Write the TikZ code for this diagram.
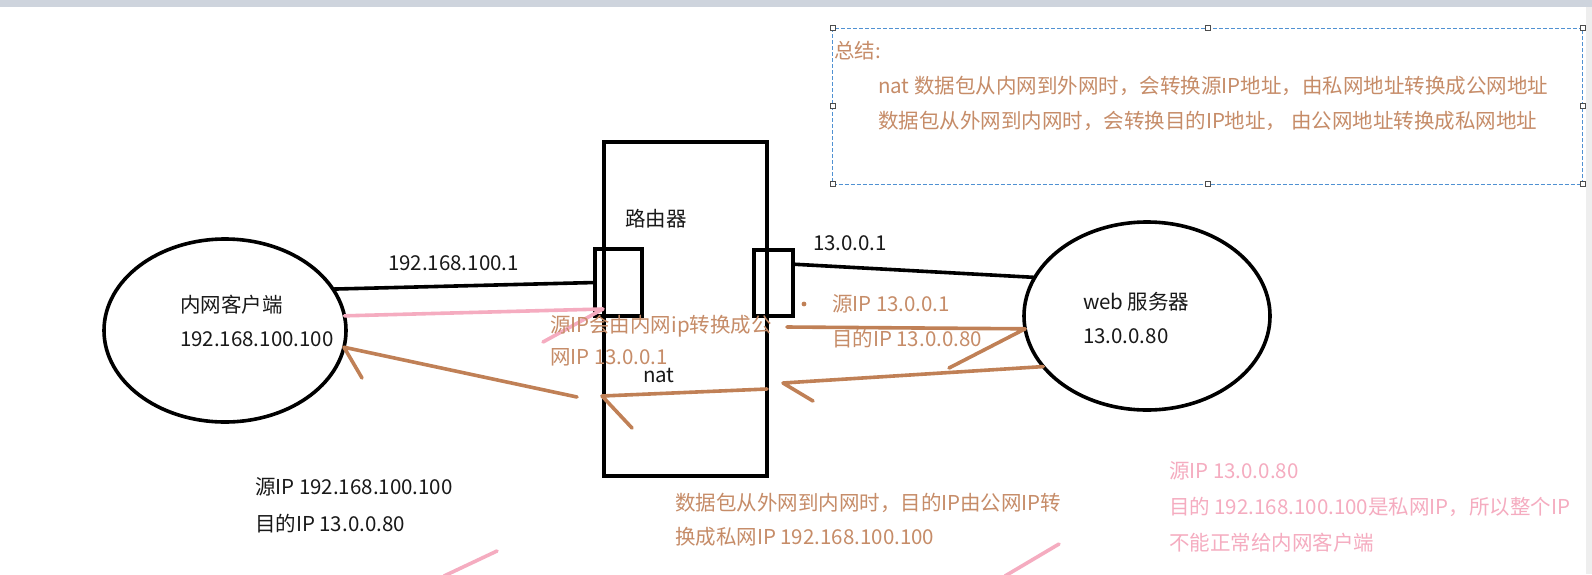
\documentclass[tikz,border=0pt]{standalone}
\usepackage{fontspec}
\setmainfont{Noto Sans CJK SC}
\usepackage{xcolor}
\usetikzlibrary{shapes.geometric}
\definecolor{natbrown}{RGB}{192,128,86}
\definecolor{nattext}{RGB}{198,140,104}
\definecolor{natpink}{RGB}{245,172,192}
\definecolor{selblue}{RGB}{80,145,210}
\definecolor{topbar}{RGB}{206,212,221}
\definecolor{sidebar}{RGB}{238,238,238}

\begin{document}
\begin{tikzpicture}[
  x=1pt, y=-1pt,
  every node/.style={inner sep=0pt, outer sep=0pt},
  txt/.style={anchor=base west, font=\fontsize{20.5}{35}\selectfont, text={black!90}},
  note/.style={txt, text=nattext},
  warn/.style={txt, text=natpink},
  host/.style={draw, ellipse, line width=3.6pt},
  box/.style={draw, rectangle, line width=3.6pt},
  wire/.style={line width=3.6pt, line cap=round},
  flow/.style={line width=3.6pt, natbrown, line cap=round, line join=round},
  pinkflow/.style={flow, natpink},
  handle/.style={draw=black!70, fill=white, line width=0.6pt, rectangle, minimum size=5pt}
]
\fill[white] (0,0) rectangle (1592,574);
\useasboundingbox (0,0) rectangle (1592,574);
\fill[topbar] (0,0) rectangle (1592,7);
\fill[sidebar] (1586,7) rectangle (1592,574);

\node[draw=selblue, dash pattern=on 4pt off 2pt, line width=1pt, minimum width=750, minimum height=156] (summary) at (1207.5,106) {};
\foreach \a [count=\i] in {north west,north,north east,east,south east,south,south west,west}
  \node[handle] (h\i) at (summary.\a) {};
\node[note] (sum0) at (834,58.5) {总结:};
\node[note] (sum1) at (878,93.5) {nat 数据包从内网到外网时，会转换源IP地址，由私网地址转换成公网地址};
\node[note] (sum2) at (878,128.5) {数据包从外网到内网时，会转换目的IP地址， 由公网地址转换成私网地址};

\node[box, minimum width=163, minimum height=334] (router) at (685.5,309) {};
\node[box, minimum width=47, minimum height=67] (lport) at (618.5,282.5) {};
\node[box, minimum width=39, minimum height=66] (rport) at (773.5,283) {};
\node[host, minimum width=242, minimum height=183] (client) at (225,330.5) {};
\node[host, minimum width=246, minimum height=188] (server) at (1147,316) {};

\draw[wire] (client.21) -- (lport.west);
\draw[wire] (rport.44) -- (server.161);

\coordinate (ptip) at (603,309);
\coordinate (pbarb) at (543,342);
\draw[pinkflow] (client.7) -- (ptip) -- (pbarb);

\coordinate (back1) at (577,397);
\coordinate (barb1) at (362,378);
\draw[flow] (back1) -- (client.-8) -- (barb1);

\coordinate (nats) at (767,389);
\coordinate (natt) at (602,396);
\coordinate (barb2) at (632,428);
\draw[flow] (nats) -- (natt) -- (barb2);

\coordinate (out3) at (787,327);
\coordinate (barb3) at (949,368);
\draw[flow] (out3) -- (server.186) -- (barb3);

\coordinate (in4) at (783,383);
\coordinate (barb4) at (813,401);
\draw[flow] (server.206) -- (in4) -- (barb4);

\fill[natbrown] (804,304) circle (2.4);

\node[txt] (rlabel) at (625,226.5) {路由器};
\node[txt] (lip) at (388,270.5) {192.168.100.1};
\node[txt] (rip) at (813,250.5) {13.0.0.1};
\node[txt] (cname) at (180,312.5) {内网客户端};
\node[txt] (cip) at (180,346.5) {192.168.100.100};
\node[txt] (sname) at (1083,309.5) {web 服务器};
\node[txt] (sip) at (1083,343.5) {13.0.0.80};
\node[txt] (nat) at (643,382.5) {nat};

\node[note] (snat1) at (550,332) {源IP会由内网ip转换成公};
\node[note] (snat2) at (550,364.5) {网IP 13.0.0.1};
\node[note] (out1) at (832,311.5) {源IP 13.0.0.1};
\node[note] (out2) at (832,346.5) {目的IP 13.0.0.80};
\node[txt] (req1) at (255,494.5) {源IP 192.168.100.100};
\node[txt] (req2) at (255,531.5) {目的IP 13.0.0.80};
\node[note] (dnat1) at (675,510.5) {数据包从外网到内网时，目的IP由公网IP转};
\node[note] (dnat2) at (675,544.5) {换成私网IP 192.168.100.100};
\node[warn] (bad1) at (1169,478.5) {源IP 13.0.0.80};
\node[warn] (bad2) at (1169,514.5) {目的 192.168.100.100是私网IP，所以整个IP};
\node[warn] (bad3) at (1169,550.5) {不能正常给内网客户端};

\coordinate (pk1a) at (497,551);
\coordinate (pk1b) at (444,576);
\coordinate (pk2a) at (1059,544);
\coordinate (pk2b) at (1005,576);
\draw[pinkflow] (pk1a) -- (pk1b);
\draw[pinkflow] (pk2a) -- (pk2b);
\end{tikzpicture}
\end{document}
